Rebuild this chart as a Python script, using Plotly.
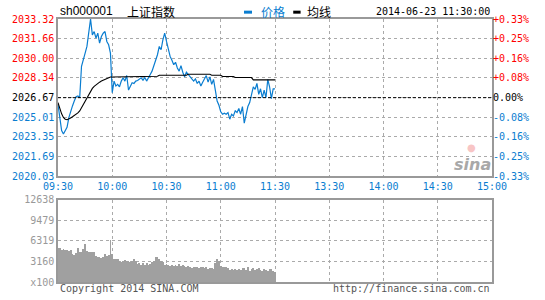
import plotly.graph_objects as go

# ---------------- data ----------------
minutes = list(range(121))  # minutes since 09:30 (morning session)

price = [
    2026.11, 2024.85, 2023.88, 2023.60, 2023.88, 2024.16, 2024.99, 2025.55, 2025.97, 2026.39,
    2026.75, 2026.81, 2026.67, 2029.32, 2030.02, 2030.44, 2031.00, 2032.12, 2033.32, 2031.98,
    2032.26, 2031.70, 2032.12, 2031.28, 2031.84, 2032.12, 2032.26, 2031.42, 2031.14, 2030.44,
    2027.09, 2028.07, 2027.65, 2027.79, 2027.59, 2028.07, 2028.35, 2028.07, 2028.54, 2027.31,
    2027.59, 2027.93, 2027.87, 2028.07, 2028.12, 2028.21, 2028.35, 2028.15, 2028.37, 2028.07,
    2028.43, 2028.63, 2028.91, 2029.32, 2029.74, 2030.30, 2031.00, 2030.72, 2031.56, 2032.12,
    2031.42, 2030.72, 2030.16, 2029.83, 2029.46, 2029.66, 2029.18, 2028.91, 2029.38, 2028.82,
    2028.43, 2028.82, 2028.63, 2028.49, 2028.35, 2028.07, 2028.26, 2027.87, 2028.07, 2027.65,
    2027.98, 2028.21, 2028.54, 2027.98, 2028.43, 2027.79, 2028.21, 2027.31, 2026.39, 2026.03,
    2025.47, 2025.27, 2025.36, 2025.27, 2025.41, 2024.85, 2025.27, 2025.13, 2025.55, 2025.41,
    2025.75, 2025.27, 2025.92, 2024.52, 2025.27, 2025.92, 2026.25, 2026.95, 2027.59, 2027.37,
    2027.87, 2026.95, 2027.42, 2026.67, 2027.31, 2026.67, 2028.21, 2027.59, 2026.59, 2027.42,
    2027.42,
]

avg_price = [
    2026.25, 2025.75, 2025.30, 2025.00, 2024.85, 2024.80, 2024.85, 2024.95, 2025.05, 2025.15,
    2025.25, 2025.38, 2025.55, 2025.83, 2026.11, 2026.39, 2026.67, 2026.95, 2027.23, 2027.45,
    2027.62, 2027.76, 2027.88, 2027.98, 2028.07, 2028.15, 2028.22, 2028.30, 2028.37, 2028.42,
    2028.42, 2028.42, 2028.42, 2028.42, 2028.42, 2028.42, 2028.42, 2028.42, 2028.42, 2028.42,
    2028.42, 2028.42, 2028.42, 2028.42, 2028.42, 2028.42, 2028.42, 2028.42, 2028.42, 2028.42,
    2028.42, 2028.48, 2028.48, 2028.48, 2028.48, 2028.48, 2028.57, 2028.57, 2028.57, 2028.57,
    2028.57, 2028.57, 2028.57, 2028.57, 2028.57, 2028.57, 2028.57, 2028.57, 2028.57, 2028.57,
    2028.57, 2028.57, 2028.65, 2028.65, 2028.65, 2028.65, 2028.65, 2028.65, 2028.65, 2028.65,
    2028.65, 2028.65, 2028.65, 2028.65, 2028.65, 2028.57, 2028.57, 2028.57, 2028.57, 2028.57,
    2028.57, 2028.46, 2028.46, 2028.46, 2028.46, 2028.46, 2028.46, 2028.46, 2028.37, 2028.37,
    2028.37, 2028.37, 2028.37, 2028.37, 2028.37, 2028.37, 2028.37, 2028.37, 2028.17, 2028.17,
    2028.17, 2028.17, 2028.17, 2028.17, 2028.17, 2028.17, 2028.17, 2028.17, 2028.17, 2028.17,
    2028.17,
]

volume = [
    5308, 5207, 5004, 5055, 4903, 4954, 4802, 4903, 4398, 4196,
    4550, 5207, 4701, 4701, 5055, 5813, 4802, 4701, 4701, 4701,
    4701, 4044, 3791, 3892, 3690, 3892, 4297, 4044, 4196, 6420,
    4297, 3539, 3539, 3539, 3286, 3033, 3286, 3387, 3185, 3286,
    3084, 3286, 3539, 3185, 2780, 2881, 2679, 2881, 2679, 2881,
    2679, 2780, 3033, 3286, 3791, 3791, 3539, 3286, 3033, 2679,
    2780, 2679, 2528, 2679, 2528, 2679, 2528, 2780, 2528, 2679,
    2528, 2376, 2528, 2275, 2174, 2376, 2275, 2275, 2174, 2376,
    2275, 2174, 2376, 2022, 2174, 2174, 2022, 2881, 3539, 3185,
    2528, 2376, 2275, 2275, 2174, 1870, 2022, 1870, 2022, 1870,
    2022, 1870, 2123, 2174, 1870, 2275, 1668, 2022, 2174, 1870,
    2022, 2174, 1870, 1769, 2022, 1870, 1769, 1971, 2022, 1668,
    1600,
]

prev_close = 2026.67
price_ticks = [2020.03, 2021.69, 2023.35, 2025.01, 2026.67, 2028.34, 2030.00, 2031.66, 2033.32]
price_labels = ["2020.03", "2021.69", "2023.35", "2025.01", "2026.67", "2028.34", "2030.00", "2031.66", "2033.32"]
pct_labels = ["-0.33%", "-0.25%", "-0.16%", "-0.08%", "0.00%", "+0.08%", "+0.16%", "+0.25%", "+0.33%"]
vol_ticks = [0, 3160, 6319, 9479, 12638]
vol_labels = ["x100", "3160", "6319", "9479", "12638"]
time_ticks = [0, 30, 60, 90, 120, 150, 180, 210, 240]
time_labels = ["09:30", "10:00", "10:30", "11:00", "11:30", "13:30", "14:00", "14:30", "15:00"]

# ---------------- style ----------------
BLUE = "#0a7dd0"
RED = "#ff0000"
GRID = "#aaaaaa"
FRAME = "#999999"
MONO = "DejaVu Sans Mono"


def colored(labels, base):
    out = []
    for lab, v in zip(labels, price_ticks):
        if v > base:
            c = RED
        elif v < base:
            c = BLUE
        else:
            c = "#000000"
        out.append(f'<span style="color:{c}">{lab}</span>')
    return out


fig = go.Figure()

fig.add_trace(go.Scatter(x=minutes, y=price, mode="lines", line=dict(color=BLUE, width=1.2),
                         xaxis="x", yaxis="y", hoverinfo="skip", showlegend=False))
fig.add_trace(go.Scatter(x=minutes, y=avg_price, mode="lines", line=dict(color="#000000", width=1.1),
                         xaxis="x", yaxis="y", hoverinfo="skip", showlegend=False))
# invisible trace to carry the right-hand percent axis
fig.add_trace(go.Scatter(x=[0], y=[prev_close], mode="markers", marker=dict(opacity=0),
                         xaxis="x", yaxis="y3", hoverinfo="skip", showlegend=False))
fig.add_trace(go.Bar(x=minutes, y=volume, marker=dict(color="#a0a0a0", line=dict(width=0)),
                     width=0.45, xaxis="x2", yaxis="y2", hoverinfo="skip", showlegend=False))

common_x = dict(range=[0, 240], tickvals=time_ticks, showgrid=True, gridcolor=GRID, griddash="dot",
                gridwidth=1, showline=True, linecolor=FRAME, linewidth=1.5, mirror=True,
                zeroline=False, ticks="", fixedrange=True)

fig.update_layout(
    width=545, height=300,
    margin=dict(l=51, r=53, t=19, b=15),
    paper_bgcolor="white", plot_bgcolor="white",
    font=dict(family=MONO, size=10, color="#000000"),
    bargap=0,
    xaxis=dict(**common_x, domain=[0, 1], anchor="y", ticktext=time_labels,
               tickfont=dict(family=MONO, size=10, color=BLUE)),
    yaxis=dict(domain=[0.4023, 1], range=[price_ticks[0], price_ticks[-1]], tickvals=price_ticks,
               ticktext=colored(price_labels, prev_close), tickfont=dict(family=MONO, size=10),
               showgrid=True, gridcolor=GRID, griddash="dot", showline=True, linecolor=FRAME,
               linewidth=1.5, mirror=True, zeroline=False, ticks="", fixedrange=True),
    yaxis3=dict(overlaying="y", side="right", anchor="x", range=[price_ticks[0], price_ticks[-1]],
                tickvals=price_ticks, ticktext=colored(pct_labels, prev_close),
                tickfont=dict(family=MONO, size=10), showgrid=False, zeroline=False,
                showline=False, ticks="", fixedrange=True),
    xaxis2=dict(**common_x, domain=[0, 1], anchor="y2", showticklabels=False),
    yaxis2=dict(domain=[0, 0.312], range=[0, vol_ticks[-1]], tickvals=vol_ticks, ticktext=vol_labels,
                tickfont=dict(family=MONO, size=10, color="#999999"), showgrid=True, gridcolor=GRID,
                griddash="dot", showline=True, linecolor=FRAME, linewidth=1.5, mirror=True,
                zeroline=False, ticks="", fixedrange=True),
)

# previous close dashed line
fig.add_shape(type="line", xref="x", yref="y", x0=0, x1=240, y0=prev_close, y1=prev_close,
              line=dict(color="#000000", width=1, dash="3px,2px"), layer="above")

# header
head_y = 1.0
fig.add_annotation(xref="paper", yref="paper", x=0, y=head_y, xanchor="left", yanchor="bottom",
                   text="sh000001", showarrow=False, font=dict(family="Liberation Sans", size=12, color="#000"),
                   yshift=-1)
fig.add_annotation(xref="paper", yref="paper", x=0.154, y=head_y, xanchor="left", yanchor="bottom",
                   text="上证指数", showarrow=False, font=dict(family="Noto Sans CJK SC", size=12, color="#000"),
                   yshift=-3)
fig.add_shape(type="line", xref="paper", yref="paper", x0=0.4286, x1=0.447, y0=1.026, y1=1.026,
              line=dict(color=BLUE, width=3))
fig.add_annotation(xref="paper", yref="paper", x=0.4626, y=head_y, xanchor="left", yanchor="bottom",
                   text="价格", showarrow=False, font=dict(family="Noto Sans CJK SC", size=12, color=BLUE),
                   yshift=-3)
fig.add_shape(type="line", xref="paper", yref="paper", x0=0.5420, x1=0.5590, y0=1.026, y1=1.026,
              line=dict(color="#000", width=3))
fig.add_annotation(xref="paper", yref="paper", x=0.5692, y=head_y, xanchor="left", yanchor="bottom",
                   text="均线", showarrow=False, font=dict(family="Noto Sans CJK SC", size=12, color="#000"),
                   yshift=-3)
fig.add_annotation(xref="paper", yref="paper", x=1, y=head_y, xanchor="right", yanchor="bottom",
                   text="2014-06-23 11:30:00", showarrow=False, font=dict(family=MONO, size=10, color="#000"),
                   yshift=0)

# footer
fig.add_annotation(xref="paper", yref="paper", x=0, y=-0.026, xanchor="left", yanchor="middle",
                   text="Copyright 2014 SINA.COM", showarrow=False, font=dict(family=MONO, size=10, color="#555"))
fig.add_annotation(xref="paper", yref="paper", x=1, y=-0.026, xanchor="right", yanchor="middle",
                   text="http://finance.sina.com.cn", showarrow=False, font=dict(family=MONO, size=10, color="#555"))

# sina watermark
fig.add_annotation(xref="paper", yref="paper", x=0.955, y=0.445, xanchor="center", yanchor="middle",
                   text="<b><i>sina</i></b>", showarrow=False,
                   font=dict(family="DejaVu Sans", size=16, color="#a8a8a8"))
fig.add_annotation(xref="paper", yref="paper", x=0.952, y=0.51, xanchor="center", yanchor="middle",
                   text="●", showarrow=False, opacity=0.45,
                   font=dict(family="DejaVu Sans", size=10, color="#f08080"))

fig.write_html("out.html")
